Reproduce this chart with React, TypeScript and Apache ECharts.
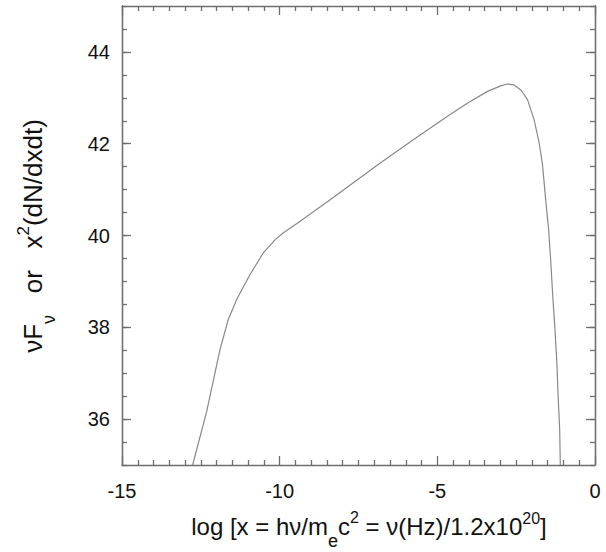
import React, { useEffect, useRef } from 'react';
import * as echarts from 'echarts';

// ---- data ----
const xMin = -15;
const xMax = 0;
const xTickInterval = 5;
const xMinorSplit = 10;
const yMin = 35;
const yMax = 45;
const yMajorTicks = [36, 38, 40, 42, 44];
const yMinorStep = 0.5;

const curveX = [
  -12.76, -12.32, -11.89, -11.63, -11.36, -10.94, -10.52, -10.14, -9.88, -9.35,
  -8.4, -6.81, -5.75, -4.69, -4.05, -3.41, -2.99, -2.78, -2.57, -2.35,
  -2.14, -1.93, -1.77, -1.665, -1.57, -1.47, -1.4, -1.34, -1.27, -1.21,
  -1.17, -1.12, -1.1,
];
const curveY = [
  35.0, 36.15, 37.52, 38.17, 38.61, 39.15, 39.62, 39.91, 40.06, 40.31,
  40.78, 41.58, 42.09, 42.59, 42.88, 43.14, 43.26, 43.3, 43.28, 43.17,
  42.96, 42.52, 42.01, 41.55, 40.82, 40.13, 39.4, 38.68, 37.96, 37.23,
  36.51, 35.78, 35.0,
];

const xTitleSegs = [
  { t: 'log [x = hν/m', s: 24, dy: 0 },
  { t: 'e', s: 18, dy: 12 },
  { t: 'c', s: 24, dy: 0 },
  { t: '2', s: 16, dy: -12 },
  { t: ' = ν(Hz)/1.2x10', s: 24, dy: 0 },
  { t: '20', s: 16, dy: -11 },
  { t: ']', s: 24, dy: 0 },
];
const yTitleSegs = [
  { t: 'νF', s: 26, dy: 0 },
  { t: 'ν', s: 18, dy: 13 },
  { t: '   or   ', s: 26, dy: 0 },
  { t: 'x', s: 26, dy: 0 },
  { t: '2', s: 17, dy: -13 },
  { t: '(dN/dxdt)', s: 26, dy: 0 },
];

const FONT = '"Liberation Sans", Arial, Helvetica, sans-serif';
const AXIS_COLOR = '#6e6e6e';
const TEXT_COLOR = '#111111';
const MAJOR_LEN = 9;
const MINOR_LEN = 5;

function buildTitle(segs: { t: string; s: number; dy: number }[]) {
  const canvas = document.createElement('canvas');
  const ctx = canvas.getContext('2d')!;
  const widths = segs.map((g) => {
    ctx.font = `${g.s}px ${FONT}`;
    return ctx.measureText(g.t).width;
  });
  const total = widths.reduce((a, b) => a + b, 0);
  let x = -total / 2;
  return segs.map((g, i) => {
    const el = {
      type: 'text',
      x,
      y: g.dy - 0.3465 * g.s,
      style: {
        text: g.t,
        fontSize: g.s,
        fontFamily: FONT,
        fill: TEXT_COLOR,
        align: 'left',
        verticalAlign: 'middle',
      },
    };
    x += widths[i];
    return el;
  });
}

export default function App() {
  const ref = useRef<HTMLDivElement>(null);
  useEffect(() => {
    document.body.style.margin = '0';
    const chart = echarts.init(ref.current!, undefined, { renderer: 'svg' });
    const lineStyle = { color: AXIS_COLOR, width: 1.3 };
    const labelStyle = { fontSize: 20, fontFamily: FONT, color: TEXT_COLOR };

    const xBase = {
      type: 'value',
      min: xMin,
      max: xMax,
      interval: xTickInterval,
      axisLine: { show: true, onZero: false, lineStyle },
      axisTick: { show: true, inside: true, length: MAJOR_LEN, lineStyle },
      minorTick: { show: true, splitNumber: xMinorSplit, length: MINOR_LEN, lineStyle },
      splitLine: { show: false },
      minorSplitLine: { show: false },
    };
    const yMajorAxis = {
      type: 'value',
      min: yMin,
      max: yMax,
      interval: 1,
      axisLine: { show: true, onZero: false, lineStyle },
      axisTick: { show: true, inside: true, length: MAJOR_LEN, lineStyle, customValues: yMajorTicks },
      splitLine: { show: false },
    };
    const yMinorAxis = {
      type: 'value',
      min: yMin,
      max: yMax,
      interval: yMinorStep,
      axisLine: { show: true, onZero: false, lineStyle },
      axisTick: { show: true, inside: true, length: MINOR_LEN, lineStyle },
      axisLabel: { show: false },
      splitLine: { show: false },
    };

    chart.setOption({
      animation: false,
      backgroundColor: '#ffffff',
      grid: { left: 122, right: 11, top: 6, bottom: 87 },
      xAxis: [
        { ...xBase, position: 'bottom', axisLabel: { ...labelStyle, margin: 16 } },
        { ...xBase, position: 'top', axisLabel: { show: false } },
      ],
      yAxis: [
        {
          ...yMajorAxis,
          position: 'left',
          axisLabel: { ...labelStyle, margin: 12, customValues: yMajorTicks },
        },
        { ...yMinorAxis, position: 'left' },
        { ...yMajorAxis, position: 'right', axisLabel: { show: false } },
        { ...yMinorAxis, position: 'right' },
      ],
      series: [
        {
          type: 'line',
          xAxisIndex: 0,
          yAxisIndex: 0,
          data: curveX.map((x, i) => [x, curveY[i]]),
          showSymbol: false,
          smooth: false,
          lineStyle: { color: '#888888', width: 1.2 },
          clip: true,
        },
      ],
      graphic: [
        { type: 'group', x: 369, y: 535, children: buildTitle(xTitleSegs) },
        {
          type: 'group',
          x: 42,
          y: 236,
          rotation: Math.PI / 2,
          children: buildTitle(yTitleSegs),
        },
      ],
    });
    return () => chart.dispose();
  }, []);
  return <div ref={ref} style={{ width: 606, height: 552 }} />;
}
